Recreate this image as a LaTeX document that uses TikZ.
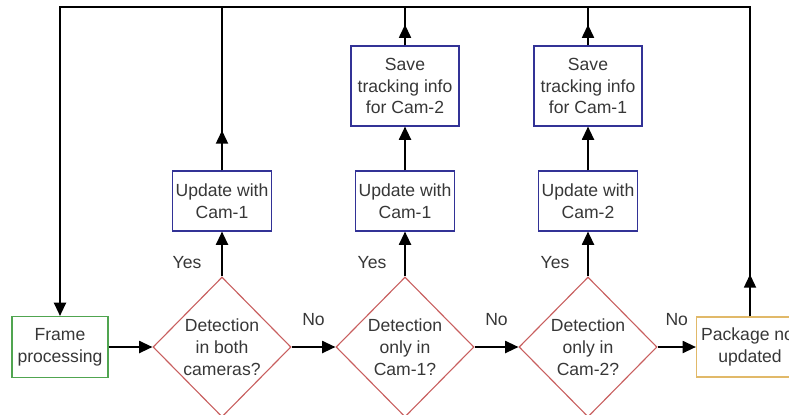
\documentclass[tikz,border=0pt]{standalone}
\usepackage{fontspec}
\setmainfont{Liberation Sans}
\usepackage{xcolor}
\usetikzlibrary{positioning}
\usetikzlibrary{arrows.meta}
\usetikzlibrary{shapes.geometric}

\definecolor{boxgreen}{RGB}{80,165,80}
\definecolor{boxred}{RGB}{200,95,95}
\definecolor{boxblue}{RGB}{50,50,150}
\definecolor{boxorange}{RGB}{225,185,105}
\definecolor{txtgray}{RGB}{55,55,55}

\tikzset{
    every node/.style={font=\fontsize{12.5}{15.6}\selectfont, text=txtgray},
    procbox/.style={draw=boxblue, line width=0.8pt, align=center, minimum width=2.45cm, minimum height=1.5cm, inner sep=2pt},
    savebox/.style={procbox, minimum width=2.7cm, minimum height=2.0cm},
    decision/.style={diamond, draw=boxred, line width=0.8pt, align=center, aspect=1, inner sep=0pt, minimum width=3.45cm, minimum height=3.5cm},
    flow/.style={line width=1.3pt, -{Triangle[length=3.3mm,width=3mm]}},
    wire/.style={line width=1.1pt}
}

\begin{document}
\begin{tikzpicture}
    \clip (0,0) rectangle (19.725,10.35);
    \useasboundingbox (0,0) rectangle (19.725,10.35);

    \node[draw=boxgreen, line width=0.8pt, align=center, minimum width=2.4cm, minimum height=1.525cm] at (1.5,1.675) (frame) {Frame\\processing};
    \node[decision] at (5.55,1.675) (det1) {Detection\\in both\\cameras?};
    \node[decision] at (10.125,1.675) (det2) {Detection\\only in\\Cam-1?};
    \node[decision] at (14.7,1.675) (det3) {Detection\\only in\\Cam-2?};
    \node[draw=boxorange, line width=0.8pt, align=center, minimum width=2.45cm, minimum height=1.5cm] at (18.75,1.675) (pkg) {Package not\\updated};

    \node[procbox] at (5.55,5.325) (upd1) {Update with\\Cam-1};
    \node[procbox] at (10.125,5.325) (upd2) {Update with\\Cam-1};
    \node[procbox] at (14.7,5.325) (upd3) {Update with\\Cam-2};
    \node[savebox] at (10.125,8.2) (save2) {Save\\tracking info\\for Cam-2};
    \node[savebox] at (14.7,8.2) (save3) {Save\\tracking info\\for Cam-1};

    \coordinate (top) at (1.5,10.175);

    % main row
    \draw[flow] (frame) -- (det1);
    \draw[flow] (det1) -- node[above=0.4cm] (no1) {No} (det2);
    \draw[flow] (det2) -- node[above=0.4cm] (no2) {No} (det3);
    \draw[flow] (det3) -- node[above=0.4cm] (no3) {No} (pkg);

    % yes branches
    \draw[flow] (det1.north) -- (upd1.south);
    \node at (4.675,3.775) (yes1) {Yes};
    \draw[flow] (det2.north) -- (upd2.south);
    \node at (9.3,3.775) (yes2) {Yes};
    \draw[flow] (det3.north) -- (upd3.south);
    \node at (13.875,3.775) (yes3) {Yes};

    \draw[flow] (upd2.north) -- (save2.south);
    \draw[flow] (upd3.north) -- (save3.south);

    % back to the start
    \draw[flow] (upd1.north) -- ++(0,1.0);
    \draw[wire] (upd1.north) -- (upd1.north |- top);
    \draw[flow] (save2.north) -- ++(0,0.52);
    \draw[wire] (save2.north) -- (save2.north |- top);
    \draw[flow] (save3.north) -- ++(0,0.52);
    \draw[wire] (save3.north) -- (save3.north |- top);
    \draw[flow] (pkg.north) -- ++(0,1.05);
    \draw[flow] (pkg.north) |- (top) -- (frame.north);
\end{tikzpicture}
\end{document}
